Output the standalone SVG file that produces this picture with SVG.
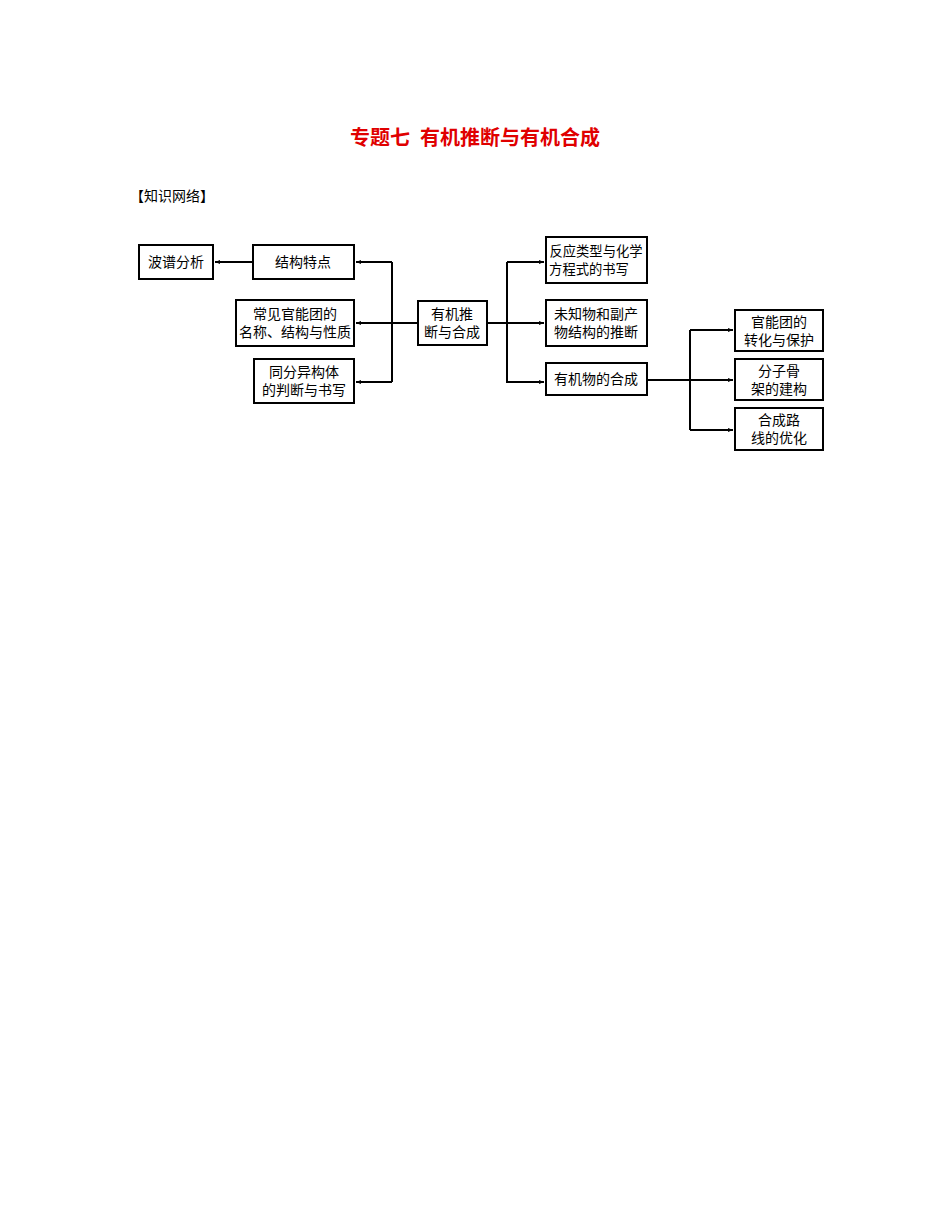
<svg xmlns="http://www.w3.org/2000/svg" width="950" height="1230" viewBox="0 0 950 1230">
<defs>
<style>
rect{fill:#fff;stroke:#000;stroke-width:2}
text{font-family:"Liberation Serif","Noto Sans CJK SC",serif;font-size:14px;text-anchor:middle;fill:#000}
.c line,.c polyline{stroke:#000;stroke-width:2;fill:none}
.t{stroke-width:1.2}
.s{font-size:13.3px}
</style>
<marker id="a" viewBox="0 0 10 10" refX="10" refY="5" markerWidth="6" markerHeight="5" orient="auto" markerUnits="userSpaceOnUse"><path d="M0,1 L10,5 L0,9z" fill="#000"/></marker>
</defs>
<rect width="950" height="1230" style="stroke:none"/>
<text x="475" y="145" style="font-size:20px;font-weight:bold;fill:#e00000" xml:space="preserve">专题七  有机推断与有机合成</text>
<text x="130" y="201" style="text-anchor:start">【知识网络】</text>
<g class="c">
<line x1="253" y1="262" x2="215" y2="262" marker-end="url(#a)"/>
<line x1="418" y1="323" x2="392" y2="323"/>
<polyline points="392,262 392,382"/>
<line x1="392" y1="262" x2="356" y2="262" marker-end="url(#a)"/>
<line x1="392" y1="323" x2="356" y2="323" marker-end="url(#a)"/>
<line x1="392" y1="382" x2="356" y2="382" marker-end="url(#a)"/>
<line x1="487" y1="323" x2="507" y2="323"/>
<polyline points="507,262 507,383"/>
<line x1="507" y1="262" x2="544" y2="262" marker-end="url(#a)"/>
<line x1="507" y1="323" x2="544" y2="323" marker-end="url(#a)"/>
<line x1="507" y1="382" x2="544" y2="382" marker-end="url(#a)"/>
<line class="t" x1="647" y1="380" x2="690" y2="380"/>
<polyline class="t" points="690,330 690,430"/>
<line class="t" x1="690" y1="330" x2="733" y2="330" marker-end="url(#a)"/>
<line class="t" x1="690" y1="380" x2="733" y2="380" marker-end="url(#a)"/>
<line class="t" x1="690" y1="430" x2="733" y2="430" marker-end="url(#a)"/>
</g>
<g id="n1"><rect x="139" y="245" width="74" height="34"/><text x="176" y="267">波谱分析</text></g>
<g id="n2"><rect x="253" y="245" width="101" height="34"/><text x="303" y="267">结构特点</text></g>
<g id="n3"><rect x="236" y="300" width="118" height="46"/><text x="295" y="319">常见官能团的</text><text x="295" y="337">名称、结构与性质</text></g>
<g id="n4"><rect x="254" y="359" width="100" height="44"/><text x="304" y="377">同分异构体</text><text x="304" y="395">的判断与书写</text></g>
<g id="n5"><rect x="418" y="301" width="69" height="44"/><text x="452" y="319">有机推</text><text x="452" y="337">断与合成</text></g>
<g id="n6"><rect x="546" y="237" width="101" height="46"/><text class="s" x="596" y="256">反应类型与化学</text><text class="s" x="589" y="274">方程式的书写</text></g>
<g id="n7"><rect x="546" y="300" width="101" height="46"/><text x="596" y="319">未知物和副产</text><text x="596" y="337">物结构的推断</text></g>
<g id="n8"><rect x="546" y="363" width="101" height="32"/><text x="596" y="384">有机物的合成</text></g>
<g id="n9"><rect x="735" y="310" width="88" height="41"/><text x="779" y="327">官能团的</text><text x="779" y="345">转化与保护</text></g>
<g id="n10"><rect x="735" y="359" width="88" height="41"/><text x="779" y="376">分子骨</text><text x="779" y="394">架的建构</text></g>
<g id="n11"><rect x="735" y="408" width="88" height="42"/><text x="779" y="425">合成路</text><text x="779" y="443">线的优化</text></g>
</svg>
